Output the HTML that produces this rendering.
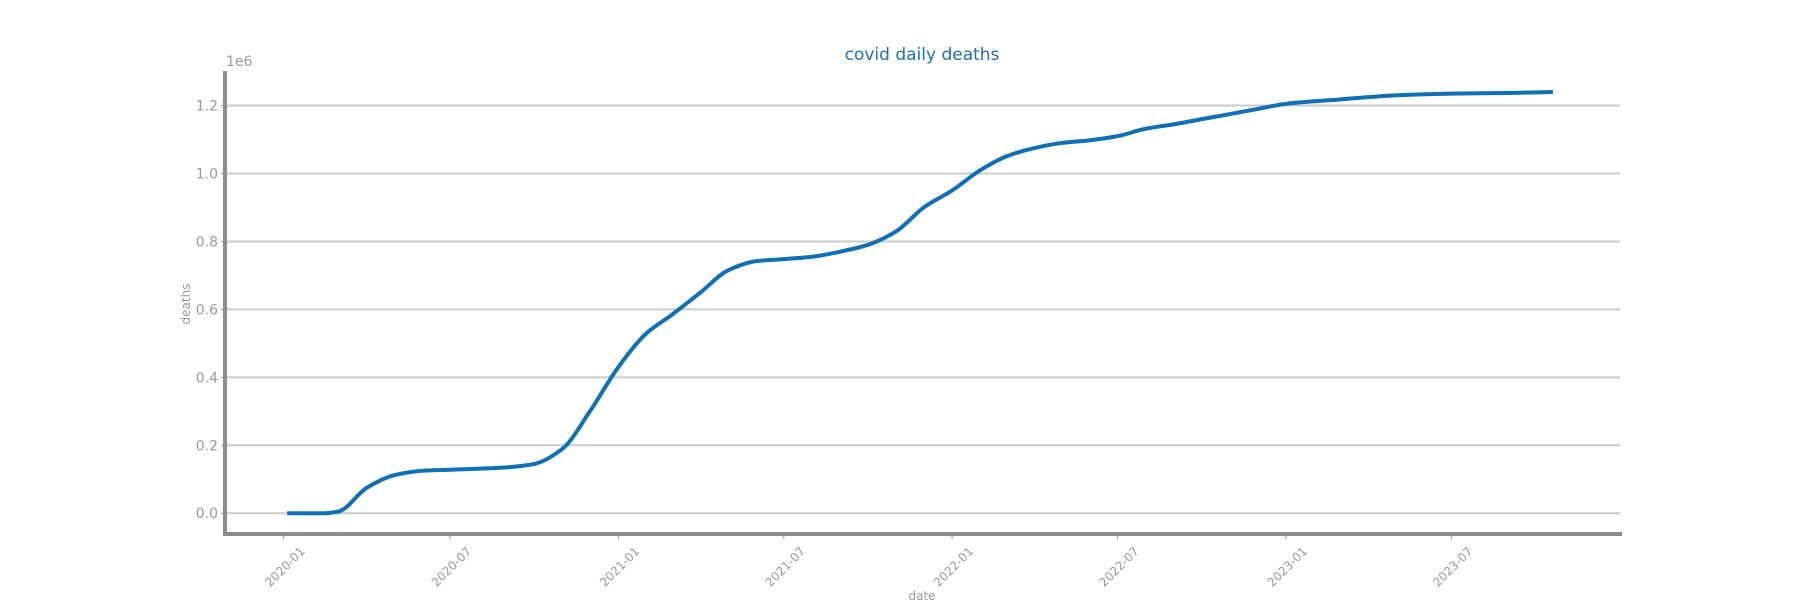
<!DOCTYPE html>
<html><head><meta charset="utf-8"><style>
html,body{margin:0;padding:0;background:#fff;}
svg{display:block;font-family:"DejaVu Sans","Liberation Sans",sans-serif;}
</style></head><body>
<svg id="chart" width="1800" height="600" viewBox="0 0 1800 600" xmlns="http://www.w3.org/2000/svg">
<text x="922" y="60" text-anchor="middle" font-size="17" fill="#1f6fb0">covid daily deaths</text>
<text x="226" y="66" font-size="14" fill="#999">1e6</text>
<text transform="translate(190,304) rotate(-90)" text-anchor="middle" font-size="12" fill="#999">deaths</text>
<text x="922" y="600" text-anchor="middle" font-size="12" fill="#999">date</text>
<g id="grid"></g><g id="yticks"></g><g id="xticks"></g>
<line x1="225" y1="71" x2="225" y2="536" stroke="#8c8c8c" stroke-width="4"/>
<line x1="223" y1="534" x2="1622" y2="534" stroke="#8c8c8c" stroke-width="4"/>
<path id="line" fill="none" stroke="#1170b3" stroke-width="4" stroke-linejoin="round"/>
</svg>
<script>
const dates=["2020-01-05","2020-02-15","2020-03-01","2020-04-01","2020-05-01","2020-06-01","2020-07-01","2020-08-01","2020-09-01","2020-10-01","2020-11-01","2020-12-01","2021-01-01","2021-02-01","2021-03-01","2021-04-01","2021-05-01","2021-06-01","2021-07-01","2021-08-01","2021-09-01","2021-10-01","2021-11-01","2021-12-01","2022-01-01","2022-02-01","2022-03-01","2022-04-01","2022-05-01","2022-06-01","2022-07-01","2022-08-01","2022-09-01","2022-10-01","2022-11-01","2022-12-01","2023-01-01","2023-03-01","2023-05-01","2023-07-01","2023-09-01","2023-10-20"];
const deaths=[0,0,5000,75000,112000,125000,128000,131000,135000,145000,190000,300000,430000,530000,585000,650000,715000,742000,748000,755000,770000,790000,830000,900000,950000,1010000,1050000,1075000,1090000,1098000,1110000,1132000,1145000,1160000,1175000,1190000,1205000,1218000,1230000,1235000,1237000,1240000];
const yTicks=[0,0.2,0.4,0.6,0.8,1.0,1.2];
const xTicks=["2020-01","2020-07","2021-01","2021-07","2022-01","2022-07","2023-01","2023-07"];
const NS="http://www.w3.org/2000/svg";
const t0=Date.UTC(2020,0,1);
function xs(d){const p=d.split("-");const t=Date.UTC(+p[0],+p[1]-1,p[2]?+p[2]:1);return 283.6+(t-t0)/86400000*0.9145;}
function ys(v){return 513.2-v/1e6*339.7;}
const grid=document.getElementById("grid"),yt=document.getElementById("yticks"),xt=document.getElementById("xticks");
yTicks.forEach(v=>{
 const y=ys(v*1e6);
 const l=document.createElementNS(NS,"line");
 
 
 l.setAttribute("x1",227);l.setAttribute("x2",1620);l.setAttribute("y1",y);l.setAttribute("y2",y);
 l.setAttribute("stroke","#cccccc");l.setAttribute("stroke-width","2");grid.appendChild(l);
 const tk=document.createElementNS(NS,"line");
 
 
 tk.setAttribute("x1",221);tk.setAttribute("x2",227);tk.setAttribute("y1",y);tk.setAttribute("y2",y);
 tk.setAttribute("stroke","#8c8c8c");tk.setAttribute("stroke-width","1");yt.appendChild(tk);
 const t=document.createElementNS(NS,"text");
 
 
 t.setAttribute("x",218);t.setAttribute("y",y+5);t.setAttribute("text-anchor","end");
 t.setAttribute("font-size","14");t.setAttribute("fill","#999");t.textContent=v.toFixed(1);yt.appendChild(t);
});
xTicks.forEach(s=>{
 const x=xs(s);
 const tk=document.createElementNS(NS,"line");
 
 
 tk.setAttribute("x1",x);tk.setAttribute("x2",x);tk.setAttribute("y1",532);tk.setAttribute("y2",539);
 tk.setAttribute("stroke","#8c8c8c");tk.setAttribute("stroke-width","1");xt.appendChild(tk);
 const t=document.createElementNS(NS,"text");
 
 
 t.setAttribute("transform","translate("+(x+22)+",552) rotate(-45)");t.setAttribute("text-anchor","end");
 t.setAttribute("font-size","12");t.setAttribute("fill","#999");t.textContent=s;xt.appendChild(t);
});
const pts=dates.map((d,i)=>[xs(d),ys(deaths[i])]);
// monotone cubic (Fritsch-Carlson)
const n=pts.length,dx=[],sl=[],m=[];
for(let i=0;i<n-1;i++){dx[i]=pts[i+1][0]-pts[i][0];sl[i]=(pts[i+1][1]-pts[i][1])/dx[i];}
m[0]=sl[0];m[n-1]=sl[n-2];
for(let i=1;i<n-1;i++){
 if(sl[i-1]*sl[i]<=0)m[i]=0;
 else{const w1=2*dx[i]+dx[i-1],w2=dx[i]+2*dx[i-1];m[i]=(w1+w2)/(w1/sl[i-1]+w2/sl[i]);}
}
let p="M"+pts[0][0]+","+pts[0][1];
for(let i=0;i<n-1;i++){
 const h=dx[i]/3;
 p+=" C"+(pts[i][0]+h)+","+(pts[i][1]+m[i]*h)+" "+(pts[i+1][0]-h)+","+(pts[i+1][1]-m[i+1]*h)+" "+pts[i+1][0]+","+pts[i+1][1];
}
document.getElementById("line").setAttribute("d",p);
</script>
</body></html>
